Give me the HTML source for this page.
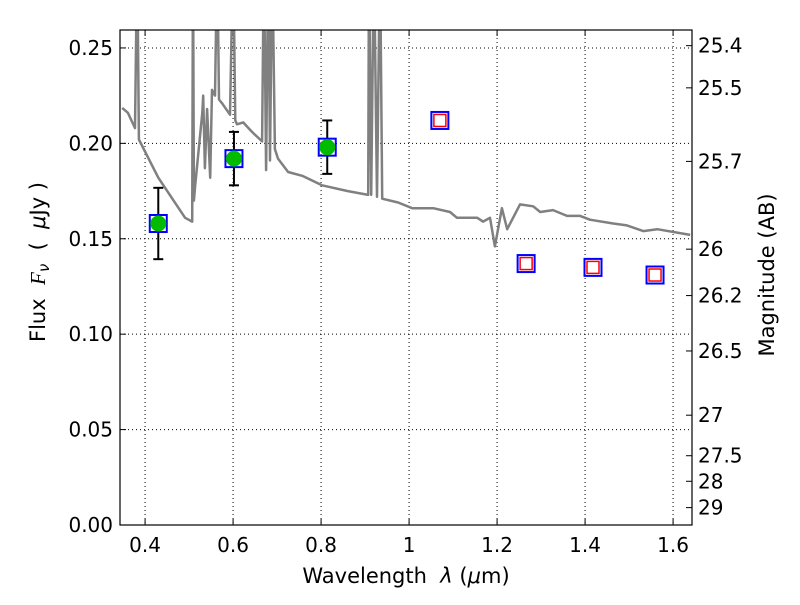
<!DOCTYPE html>
<html><head><meta charset="utf-8"><style>
body{margin:0;background:#fff;width:800px;height:600px;overflow:hidden}
svg{font-family:"DejaVu Sans","Liberation Sans",sans-serif}
text{white-space:pre}
</style></head><body>
<svg id="chart" width="800" height="600" xmlns="http://www.w3.org/2000/svg"></svg>
<script>
const specW=[0.348,0.361,0.377,0.382,0.386,0.430,0.491,0.507,0.509,0.511,0.514,0.530,0.532,0.536,0.541,0.548,0.552,0.559,0.564,0.568,0.575,0.593,0.600,0.605,0.609,0.623,0.643,0.666,0.670,0.675,0.680,0.684,0.689,0.695,0.702,0.725,0.757,0.802,0.861,0.907,0.909,0.914,0.920,0.927,0.934,0.939,0.975,1.007,1.055,1.093,1.109,1.155,1.168,1.184,1.195,1.211,1.223,1.252,1.282,1.298,1.327,1.359,1.389,1.411,1.464,1.495,1.532,1.564,1.639];
const specF=[0.2186,0.216,0.208,0.3,0.202,0.182,0.161,0.159,0.3,0.170,0.178,0.216,0.225,0.187,0.218,0.182,0.228,0.225,0.3,0.223,0.221,0.215,0.3,0.212,0.210,0.211,0.206,0.201,0.3,0.186,0.3,0.191,0.3,0.197,0.192,0.185,0.183,0.178,0.175,0.173,0.3,0.173,0.3,0.172,0.3,0.171,0.169,0.166,0.166,0.164,0.161,0.161,0.159,0.161,0.146,0.166,0.155,0.168,0.167,0.164,0.165,0.162,0.162,0.160,0.158,0.157,0.154,0.155,0.152];
const obsW=[0.430,0.602,0.814];
const obsF=[0.158,0.192,0.198];
const obsErr=[0.0187,0.014,0.014];
const modelW=[0.430,0.602,0.814,1.070,1.266,1.418,1.559];
const modelF=[0.158,0.192,0.198,0.212,0.137,0.135,0.131];
const predW=[1.070,1.266,1.418,1.559];
const predF=[0.212,0.137,0.135,0.131];
const xTicks=[0.4,0.6,0.8,1.0,1.2,1.4,1.6];
const xTickLabels=["0.4","0.6","0.8","1","1.2","1.4","1.6"];
const yTicks=[0,0.05,0.10,0.15,0.20,0.25];
const yTickLabels=["0.00","0.05","0.10","0.15","0.20","0.25"];
const magTicks=[25.4,25.5,25.7,26,26.2,26.5,27,27.5,28,29];
const magLabels=["25.4","25.5","25.7","26","26.2","26.5","27","27.5","28","29"];

const L=120,R=692,T=30,B=525,X0=0.343,X1=1.643,Y0=0,Y1=0.2594;
const sx=w=>L+(w-X0)/(X1-X0)*(R-L);
const sy=f=>B-(f-Y0)/(Y1-Y0)*(B-T);
const NS="http://www.w3.org/2000/svg";
const svg=document.getElementById('chart');
function mk(tag,attrs,parent){const e=document.createElementNS(NS,tag);for(const k in attrs)e.setAttribute(k,attrs[k]);(parent||svg).appendChild(e);return e;}
const defs=mk('defs',{});const cp=mk('clipPath',{id:'clip'},defs);mk('rect',{x:L,y:T,width:R-L,height:B-T},cp);

xTicks.forEach((v,i)=>{
 const g=mk('line',{x1:sx(v),x2:sx(v),y1:T,y2:B,stroke:'#000','stroke-width':1,'stroke-dasharray':'1,3'});
 
 
 const t=mk('line',{x1:sx(v),x2:sx(v),y1:B,y2:B-6,stroke:'#000'});
 
 
 mk('line',{x1:sx(v),x2:sx(v),y1:T,y2:T+6,stroke:'#000'});
 const l=mk('text',{x:sx(v),y:B+27,'font-size':20,'text-anchor':'middle'});l.textContent=xTickLabels[i];
 
 
});
yTicks.forEach((v,i)=>{
 const g=mk('line',{x1:L,x2:R,y1:sy(v),y2:sy(v),stroke:'#000','stroke-width':1,'stroke-dasharray':'1,3'});
 
 
 const t=mk('line',{x1:L,x2:L+6,y1:sy(v),y2:sy(v),stroke:'#000'});
 
 
 const l=mk('text',{x:L-7,y:sy(v)+7,'font-size':20,'text-anchor':'end'});l.textContent=yTickLabels[i];
 
 
});
magTicks.forEach((m,i)=>{
 const f=Math.pow(10,(23.9-m)/2.5);const y=sy(f);
 const t=mk('line',{x1:R-6,x2:R,y1:y,y2:y,stroke:'#000'});
 
 
 const l=mk('text',{x:R+6,y:y+7,'font-size':20});l.textContent=magLabels[i];
 
 
});

const pd=specW.map((w,i)=>(i?'L':'M')+sx(w).toFixed(1)+','+sy(specF[i]).toFixed(1)).join(' ');
const sp=mk('path',{d:pd,fill:'none',stroke:'#808080','stroke-width':2.5,'stroke-linejoin':'round','clip-path':'url(#clip)'});



obsW.forEach((w,i)=>{
 const x=sx(w),y1=sy(obsF[i]+obsErr[i]),y2=sy(obsF[i]-obsErr[i]);
 const g=mk('g',{stroke:'#000','stroke-width':2});
 
 
 mk('line',{x1:x,x2:x,y1:y1,y2:y2},g);mk('line',{x1:x-5,x2:x+5,y1:y1,y2:y1},g);mk('line',{x1:x-5,x2:x+5,y1:y2,y2:y2},g);
});
modelW.forEach((w,i)=>{
 const r=mk('rect',{x:sx(w)-8.5,y:sy(modelF[i])-8.5,width:17,height:17,fill:'none',stroke:'#0000ff','stroke-width':2});
 
 
});
predW.forEach((w,i)=>{
 const r=mk('rect',{x:sx(w)-6,y:sy(predF[i])-6,width:12,height:12,fill:'none',stroke:'#ff0000','stroke-width':1.5});
 
 
});
obsW.forEach((w,i)=>{
 const c=mk('circle',{cx:sx(w),cy:sy(obsF[i]),r:8,fill:'#00bb00'});
 
 
});

const fr=mk('rect',{x:L,y:T,width:R-L,height:B-T,fill:'none',stroke:'#000','stroke-width':1.2});



const xl=mk('text',{x:406,y:583,'font-size':21,'text-anchor':'middle'});
xl.innerHTML='Wavelength  <tspan font-style="italic">λ</tspan> (<tspan font-style="italic">μ</tspan>m)';


const yl=mk('text',{x:0,y:0,'font-size':21,'text-anchor':'middle',transform:'translate(45,262) rotate(-90)'});
yl.innerHTML='Flux  <tspan font-style="italic" font-family="Liberation Serif,serif">F</tspan><tspan font-style="italic" font-size="15" dy="4">ν</tspan><tspan dy="-4">  (  <tspan font-style="italic">μ</tspan>Jy )</tspan>';


const rl=mk('text',{x:0,y:0,'font-size':21,'text-anchor':'middle',transform:'translate(774,275) rotate(-90)'});
rl.textContent='Magnitude (AB)';


</script>
</body></html>
